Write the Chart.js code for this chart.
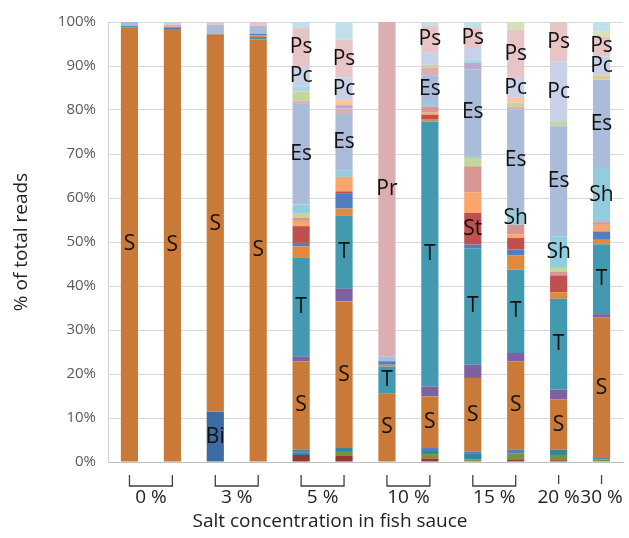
<!DOCTYPE html>
<html>
<head>
<meta charset="utf-8">
<script src="https://cdn.jsdelivr.net/npm/chart.js@4.4.1/dist/chart.umd.min.js"></script>
<style>
html, body { margin: 0; padding: 0; background: #fff; }
#wrap { position: relative; width: 629px; height: 538px; }
</style>
</head>
<body>
<div id="wrap"><canvas id="chart"></canvas></div>
<script>
// samples (bars), grouped by salt concentration
var samples = ['0% a', '0% b', '3% a', '3% b', '5% a', '5% b', '10% a', '10% b', '15% a', '15% b', '20%', '30%'];
var groupLabels = ['0 %', '3 %', '5 %', '10 %', '15 %', '20 %', '30 %'];
var groupSizes = [2, 2, 2, 2, 2, 1, 1];

// % of total reads per taxon, stacked bottom -> top
var darkRed      = [0, 0, 0, 0, 1.6, 1.5, 0, 0.8, 0, 0.6, 0.4, 0];
var green        = [0, 0, 0, 0, 0, 0.8, 0, 1.0, 0.6, 1.4, 1.2, 0.6];
var tealMinor    = [0, 0, 0, 0, 0.6, 0.9, 0, 0.7, 1.4, 0, 1.2, 0];
var blueMinor    = [0, 0, 0, 0, 0.6, 0, 0, 0.7, 0.4, 0.8, 0, 0.3];
var bi           = [0, 0, 11.4, 0, 0, 0, 0, 0, 0, 0, 0, 0];
var s            = [98.8, 98.4, 85.4, 96.1, 20.1, 33.3, 15.6, 11.7, 16.7, 20.1, 11.4, 32.0];
var purple       = [0, 0, 0, 0, 1.1, 2.9, 0, 2.3, 3.0, 1.9, 2.2, 0.7];
var t            = [0.3, 0, 0.3, 0.5, 22.4, 16.6, 6.1, 60.1, 26.5, 18.9, 20.7, 15.9];
var orange       = [0, 0, 0.3, 0.4, 2.6, 1.6, 0.4, 0.5, 0, 3.3, 1.5, 1.0];
var blue         = [0, 0.4, 0, 0.3, 0.8, 3.5, 0.8, 0, 0.8, 1.3, 0, 1.9];
var st           = [0, 0, 0, 0, 3.8, 0.4, 0, 1.1, 7.2, 2.6, 3.8, 0];
var lightOrange  = [0, 0, 0, 0, 1.2, 3.3, 0, 0.5, 4.7, 0.8, 0, 1.5];
var rose         = [0, 0, 0, 0, 0.7, 0, 0, 1.4, 5.9, 2.2, 0.9, 0.6];
var lightGreen   = [0, 0, 0, 0, 1.1, 0, 0, 0, 1.9, 0, 0.8, 0];
var sh           = [0, 0, 0, 0, 1.9, 1.4, 0, 0.8, 0.7, 3.1, 7.2, 12.3];
var es           = [0.9, 0, 2.0, 1.9, 22.9, 12.9, 1.1, 6.3, 19.4, 23.1, 25.0, 20.1];
var pr           = [0, 0.6, 0, 0, 0.6, 1.2, 76.0, 1.8, 0, 0.7, 0, 0];
var lightPurple  = [0, 0, 0, 0, 0, 0.8, 0, 0, 1.5, 0, 0, 0];
var lightGreen2  = [0, 0, 0, 0, 2.2, 0, 0, 0.6, 0, 0.9, 1.0, 0.6];
var lightCyan    = [0, 0, 0, 0, 1.2, 0, 0, 0, 0.7, 0, 0, 0];
var lightOrange2 = [0, 0, 0, 0, 0, 1.2, 0, 0, 0, 1.2, 0, 0.5];
var pc           = [0, 0.6, 0, 0, 4.5, 5.1, 0, 2.7, 2.7, 4.4, 13.8, 4.2];
var ps           = [0, 0, 0.6, 0.8, 8.7, 8.6, 0, 6.2, 4.5, 11.0, 8.9, 4.5];
var topGreen     = [0, 0, 0, 0, 0, 0, 0, 0, 0, 1.7, 0, 1.2];
var topCyan      = [0, 0, 0, 0, 1.4, 4.0, 0, 0.8, 1.4, 0, 0, 2.1];

var series = [
    ['other 1', darkRed, '#953735'],
    ['other 2', green, '#77933c'],
    ['other 3', tealMinor, '#31859c'],
    ['other 4', blueMinor, '#4f81bd'],
    ['Bi', bi, '#3e6ba2'],
    ['S', s, '#c97a38'],
    ['other 5', purple, '#7e61a0'],
    ['T', t, '#4299b0'],
    ['other 6', orange, '#e2893d'],
    ['other 7', blue, '#4f7fc0'],
    ['St', st, '#c0504d'],
    ['other 8', lightOrange, '#f9a56b'],
    ['other 9', rose, '#d79593'],
    ['other 10', lightGreen, '#c3d69b'],
    ['Sh', sh, '#93cddd'],
    ['Es', es, '#abbbda'],
    ['Pr', pr, '#dcadb1'],
    ['other 11', lightPurple, '#b8a9ce'],
    ['other 12', lightGreen2, '#c4d79b'],
    ['other 13', lightCyan, '#a8d8e4'],
    ['other 14', lightOrange2, '#fbc4a0'],
    ['Pc', pc, '#c8d1e7'],
    ['Ps', ps, '#e7c4c5'],
    ['other 15', topGreen, '#d4e2b8'],
    ['other 16', topCyan, '#c0e1ea']
];

// [bar index, taxon] labels written inside the bars
var segmentLabels = [
    [0, 'S'], [1, 'S'], [2, 'S'], [2, 'Bi'], [3, 'S'],
    [4, 'S'], [4, 'T'], [4, 'Es'], [4, 'Pc'], [4, 'Ps'],
    [5, 'S'], [5, 'T'], [5, 'Es'], [5, 'Pc'], [5, 'Ps'],
    [6, 'S'], [6, 'T'], [6, 'Pr'],
    [7, 'S'], [7, 'T'], [7, 'Es'], [7, 'Ps'],
    [8, 'S'], [8, 'T'], [8, 'St'], [8, 'Es'], [8, 'Ps'],
    [9, 'S'], [9, 'T'], [9, 'Sh'], [9, 'Es'], [9, 'Pc'], [9, 'Ps'],
    [10, 'S'], [10, 'T'], [10, 'Sh'], [10, 'Es'], [10, 'Pc'], [10, 'Ps'],
    [11, 'S'], [11, 'T'], [11, 'Sh'], [11, 'Es'], [11, 'Pc'], [11, 'Ps']
];

var FONT = '"Open Sans", "DejaVu Sans", sans-serif';

var datasets = series.map(function (d) {
    return {
        label: d[0],
        data: d[1],
        backgroundColor: d[2],
        borderWidth: 0,
        barPercentage: 0.4,
        categoryPercentage: 1.0
    };
});

var segmentLabelPlugin = {
    id: 'segmentLabels',
    afterDatasetsDraw: function (chart) {
        var ctx = chart.ctx;
        ctx.save();
        ctx.font = '21px ' + FONT;
        ctx.fillStyle = '#111';
        ctx.textAlign = 'center';
        ctx.textBaseline = 'middle';
        segmentLabels.forEach(function (l) {
            var idx = series.findIndex(function (d) { return d[0] === l[1]; });
            var el = chart.getDatasetMeta(idx).data[l[0]];
            ctx.fillText(l[1], el.x, (el.y + el.base) / 2);
        });
        ctx.restore();
    }
};

var groupAxisPlugin = {
    id: 'groupAxis',
    afterDraw: function (chart) {
        var ctx = chart.ctx;
        var xs = chart.scales.x;
        var bottom = chart.chartArea.bottom;
        var top = bottom + 13, low = bottom + 24;
        ctx.save();
        ctx.strokeStyle = '#404040';
        ctx.lineWidth = 1.3;
        ctx.fillStyle = '#222';
        ctx.font = '19px ' + FONT;
        ctx.textAlign = 'center';
        ctx.textBaseline = 'middle';
        var start = 0;
        groupLabels.forEach(function (g, i) {
            var x1 = xs.getPixelForValue(start);
            var x2 = xs.getPixelForValue(start + groupSizes[i] - 1);
            ctx.beginPath();
            if (groupSizes[i] > 1) {
                ctx.moveTo(x1, top);
                ctx.lineTo(x1, low);
                ctx.lineTo(x2, low);
                ctx.lineTo(x2, top);
            } else {
                ctx.moveTo(x1, top);
                ctx.lineTo(x1, low - 2);
            }
            ctx.stroke();
            ctx.fillText(g, (x1 + x2) / 2, bottom + 36);
            start += groupSizes[i];
        });
        ctx.fillText('Salt concentration in fish sauce', 330, bottom + 60);
        ctx.restore();
    }
};

new Chart(document.getElementById('chart'), {
    type: 'bar',
    data: { labels: samples, datasets: datasets },
    options: {
        responsive: true,
        maintainAspectRatio: false,
        animation: false,
        layout: { padding: { top: 22, right: 6, left: 0, bottom: 0 } },
        plugins: {
            legend: { display: false },
            tooltip: { enabled: false }
        },
        scales: {
            x: {
                stacked: true,
                ticks: { display: false },
                grid: { display: false },
                border: { display: true, color: '#bfbfbf', width: 1 },
                afterFit: function (scale) { scale.height = 76; }
            },
            y: {
                stacked: true,
                min: 0,
                max: 100,
                ticks: {
                    stepSize: 10,
                    padding: 12,
                    color: '#595959',
                    font: { family: FONT, size: 15 },
                    callback: function (v) { return v + '%'; }
                },
                grid: { color: '#d9d9d9', drawTicks: false },
                border: { display: true, color: '#d0d0d0' },
                title: {
                    display: true,
                    text: '% of total reads',
                    color: '#222',
                    font: { family: FONT, size: 19 },
                    padding: { top: 10, bottom: 0 }
                },
                afterFit: function (scale) { scale.width = 108; }
            }
        }
    },
    plugins: [segmentLabelPlugin, groupAxisPlugin]
});
</script>
</body>
</html>
